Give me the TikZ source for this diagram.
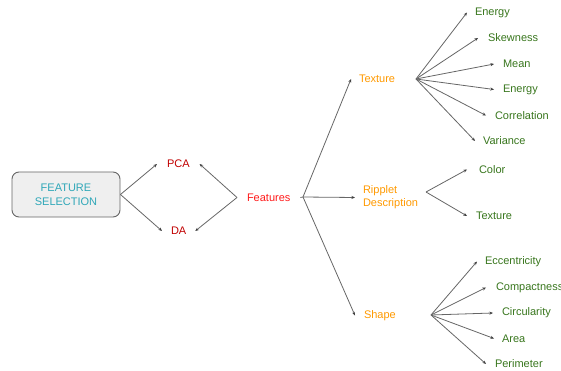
\documentclass[tikz,border=0pt]{standalone}
\usepackage{fontspec}
\setmainfont{Liberation Sans}
\usetikzlibrary{arrows.meta}
\definecolor{tealtxt}{HTML}{2FA7B8}
\definecolor{boxfill}{HTML}{EFEFEF}
\definecolor{boxline}{HTML}{666666}
\definecolor{darkred}{HTML}{C00000}
\definecolor{brightred}{HTML}{FF1A1A}
\definecolor{orangetxt}{HTML}{FF9900}
\definecolor{greentxt}{HTML}{38761D}
\definecolor{linegray}{HTML}{666666}
\tikzset{
  lbl/.style={font=\fontsize{11}{13}\selectfont, inner xsep=0pt, inner ysep=1pt, outer xsep=9pt, outer ysep=0pt, anchor=west},
  redlbl/.style={lbl, text=darkred},
  orlbl/.style={lbl, text=orangetxt, outer xsep=8pt},
  grlbl/.style={lbl, text=greentxt},
  conn/.style={draw=linegray, line width=0.8pt, -{Stealth[length=3.6pt,width=3pt,color=black!75]}},
  plain/.style={draw=linegray, line width=0.8pt},
  fsbox/.style={draw=boxline, fill=boxfill, rounded corners=7pt, line width=0.9pt,
    minimum width=108pt, minimum height=45pt, align=center, text=tealtxt,
    font=\fontsize{11}{14}\selectfont}
}
\begin{document}
\begin{tikzpicture}[x=1pt,y=-1pt]
\useasboundingbox (0,0) rectangle (561,371);
% left box
\node[fsbox] (fs) at (66,194.5) {FEATURE\\SELECTION};
% PCA / DA
\node[redlbl, outer xsep=10pt] (pca) at (157,164) {PCA};
\node[redlbl] (da) at (162,231) {DA};
% Features
\node[lbl, text=brightred, outer xsep=10pt] (feat) at (237,197.5) {Features};
\coordinate (fhub) at (303,197);
% second level
\node[orlbl] (tex) at (351,79) {Texture};
\node[orlbl, align=left, font=\fontsize{11}{13}\selectfont] (rip) at (355,197.5) {Ripplet\\Description};
\node[orlbl, outer xsep=9pt] (shp) at (355,315.5) {Shape};
\coordinate (thub) at (416,79);
\coordinate (rhub) at (426,192);
\coordinate (shub) at (431,315);
% texture leaves
\node[grlbl, outer xsep=8pt] (e1) at (467,12.5) {Energy};
\node[grlbl, outer xsep=10pt] (sk) at (478,38) {Skewness};
\node[grlbl] (mn) at (494,64) {Mean};
\node[grlbl] (e2) at (494,89.5) {Energy};
\node[grlbl] (co) at (486,115.5) {Correlation};
\node[grlbl, outer xsep=8pt] (va) at (475,141) {Variance};
% ripplet leaves
\node[grlbl, outer xsep=12pt] (col) at (467,169.5) {Color};
\node[grlbl] (tx2) at (467,216) {Texture};
% shape leaves
\node[grlbl, outer xsep=8pt] (ec) at (477,261.5) {Eccentricity};
\node[grlbl, outer xsep=10pt] (cp) at (486,287.5) {Compactness};
\node[grlbl] (ci) at (493,313) {Circularity};
\node[grlbl, outer xsep=8pt] (ar) at (494,338.5) {Area};
\node[grlbl] (pe) at (486,364) {Perimeter};
% connectors
\draw[conn] (fs.east) -- (pca.west);
\draw[conn] (fs.east) -- (da.west);
\draw[conn] (feat.west) -- (pca.east);
\draw[conn] (feat.west) -- (da.east);
\draw[plain] (feat.east) -- (fhub);
\draw[conn] (fhub) -- (tex.west);
\draw[conn] (fhub) -- (rip.west);
\draw[conn] (fhub) -- (shp.west);
\foreach \n in {e1,sk,mn,e2,co,va} \draw[conn] (thub) -- (\n.west);
\foreach \n in {col,tx2} \draw[conn] (rhub) -- (\n.west);
\foreach \n in {ec,cp,ci,ar,pe} \draw[conn] (shub) -- (\n.west);
\end{tikzpicture}
\end{document}
